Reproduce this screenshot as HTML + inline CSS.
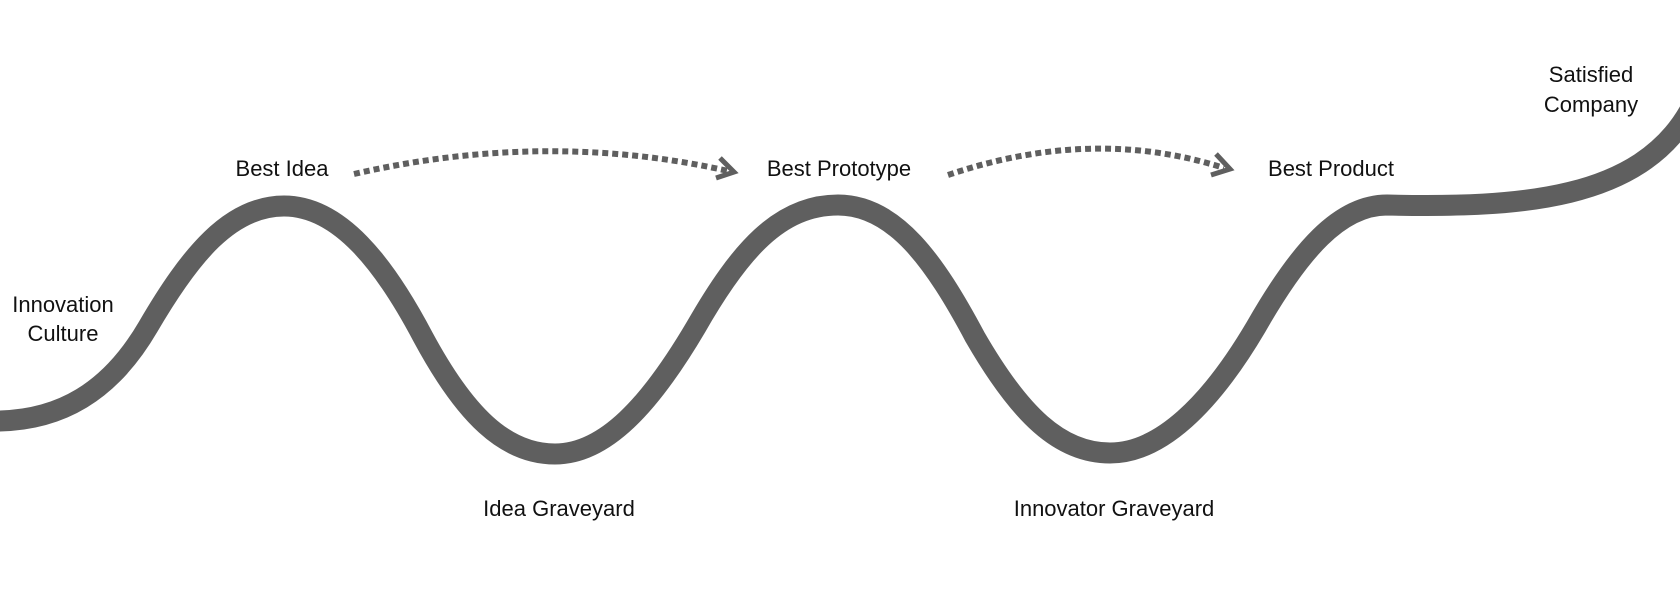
<!DOCTYPE html>
<html><head><style>
body{margin:0;background:#fff;}
svg{display:block}
text{font-family:"Liberation Sans",sans-serif;font-size:22px;fill:#111;text-anchor:middle}
</style></head><body>
<svg width="1680" height="605" viewBox="0 0 1680 605">
<path d="M-5,421 C60,421 110,392 148,327 C190,255 230,206 284,206 C340,206 385,265 423,337 C465,415 505,454 555,454 C605,454 650,405 696,327 C740,250 780,205 838,205 C895,205 935,262 975,337 C1020,415 1060,453 1110,453 C1160,453 1210,405 1256,327 C1300,250 1340,205 1387,205 C1520,208 1640,200 1690,110" fill="none" stroke="#5f5f5f" stroke-width="21"/>
<path d="M354,174 Q546,130 728,171" fill="none" stroke="#5f5f5f" stroke-width="6" stroke-dasharray="6,4"/>
<path d="M720,158 L734,172 L716,178" fill="none" stroke="#5f5f5f" stroke-width="5"/>
<path d="M948,175 Q1093,126 1224,168" fill="none" stroke="#5f5f5f" stroke-width="6" stroke-dasharray="6,4"/>
<path d="M1216,154 L1230,169 L1211,175" fill="none" stroke="#5f5f5f" stroke-width="5"/>
<text x="282" y="176">Best Idea</text>
<text x="839" y="176">Best Prototype</text>
<text x="1331" y="176">Best Product</text>
<text x="63" y="312">Innovation</text>
<text x="63" y="341">Culture</text>
<text x="559" y="516">Idea Graveyard</text>
<text x="1114" y="516">Innovator Graveyard</text>
<text x="1591" y="82">Satisfied</text>
<text x="1591" y="112">Company</text>
</svg>
</body></html>
